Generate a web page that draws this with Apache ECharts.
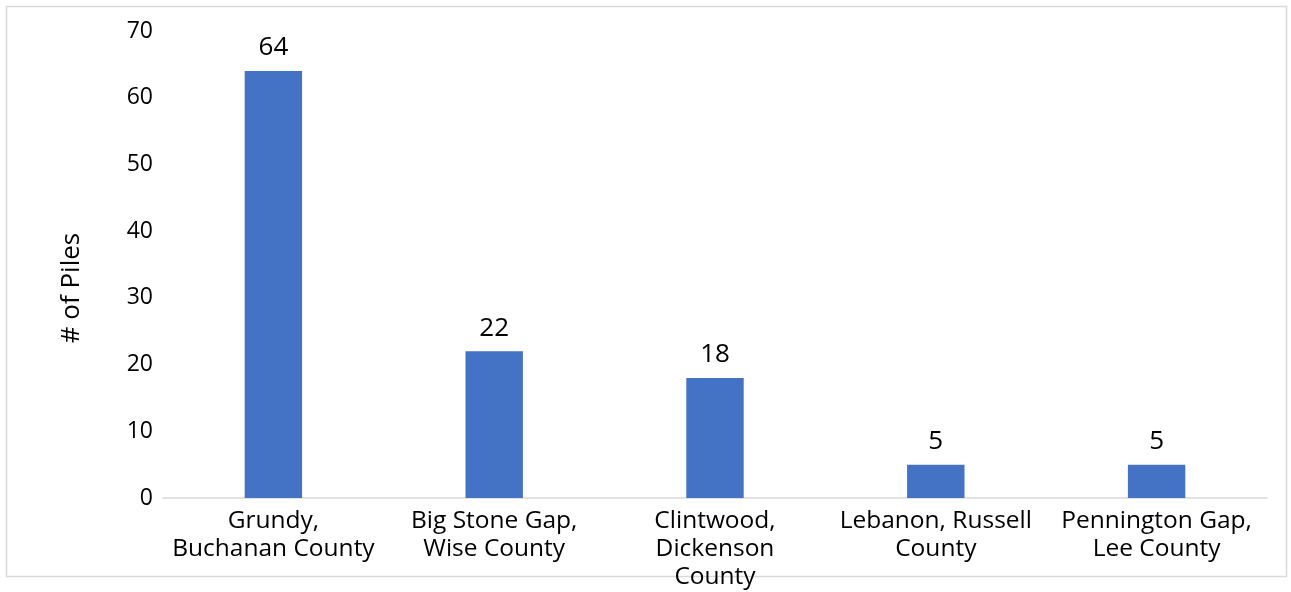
<!DOCTYPE html>
<html>
<head>
<meta charset="utf-8">
<script src="https://cdn.jsdelivr.net/npm/echarts@6/dist/echarts.min.js"></script>
<style>
  html, body { margin: 0; padding: 0; background: #ffffff; }
  #chart { width: 1291px; height: 592px; }
</style>
</head>
<body>
<div id="chart"></div>
<script>
// Coal refuse piles counted per locality
const categories = [
  'Grundy,\nBuchanan County',
  'Big Stone Gap,\nWise County',
  'Clintwood,\nDickenson\nCounty',
  'Lebanon, Russell\nCounty',
  'Pennington Gap,\nLee County'
];
const piles = [64, 22, 18, 5, 5];
const yTicks = { min: 0, max: 70, interval: 10 };
const yTitle = '# of Piles';

const FONT = '"Open Sans", "Noto Sans", sans-serif';

const chart = echarts.init(document.getElementById('chart'), null, { renderer: 'canvas' });
chart.setOption({
  animation: false,
  backgroundColor: '#ffffff',
  graphic: [{
    type: 'rect',
    shape: { x: 6.5, y: 6.5, width: 1280, height: 570 },
    style: { fill: 'none', stroke: '#d9d9d9', lineWidth: 1.5 },
    silent: true
  }, {
    // vertical axis title, sits a little below the plot's middle
    type: 'text',
    x: 72,
    y: 288,
    rotation: Math.PI / 2,
    style: {
      text: yTitle,
      fill: '#000000',
      font: '26px "Open Sans", "Noto Sans", sans-serif',
      align: 'center',
      verticalAlign: 'middle'
    },
    silent: true
  }],
  grid: { left: 163, right: 24, top: 31, bottom: 94 },
  xAxis: {
    type: 'category',
    data: categories,
    axisLine: { lineStyle: { color: '#d9d9d9', width: 1.5 } },
    axisTick: { show: false },
    axisLabel: {
      interval: 0,
      color: '#000000',
      fontFamily: FONT,
      fontSize: 24.5,
      lineHeight: 28,
      margin: 9
    }
  },
  yAxis: {
    type: 'value',
    min: yTicks.min,
    max: yTicks.max,
    interval: yTicks.interval,
    axisLine: { show: false },
    axisTick: { show: false },
    splitLine: { show: false },
    axisLabel: { color: '#000000', fontFamily: FONT, fontSize: 23, margin: 10 }
  },
  series: [{
    type: 'bar',
    data: piles,
    barWidth: '26%',
    itemStyle: { color: '#4472c4' },
    label: {
      show: true,
      position: 'top',
      distance: 10,
      color: '#000000',
      fontFamily: FONT,
      fontSize: 26
    }
  }]
});
</script>
</body>
</html>
